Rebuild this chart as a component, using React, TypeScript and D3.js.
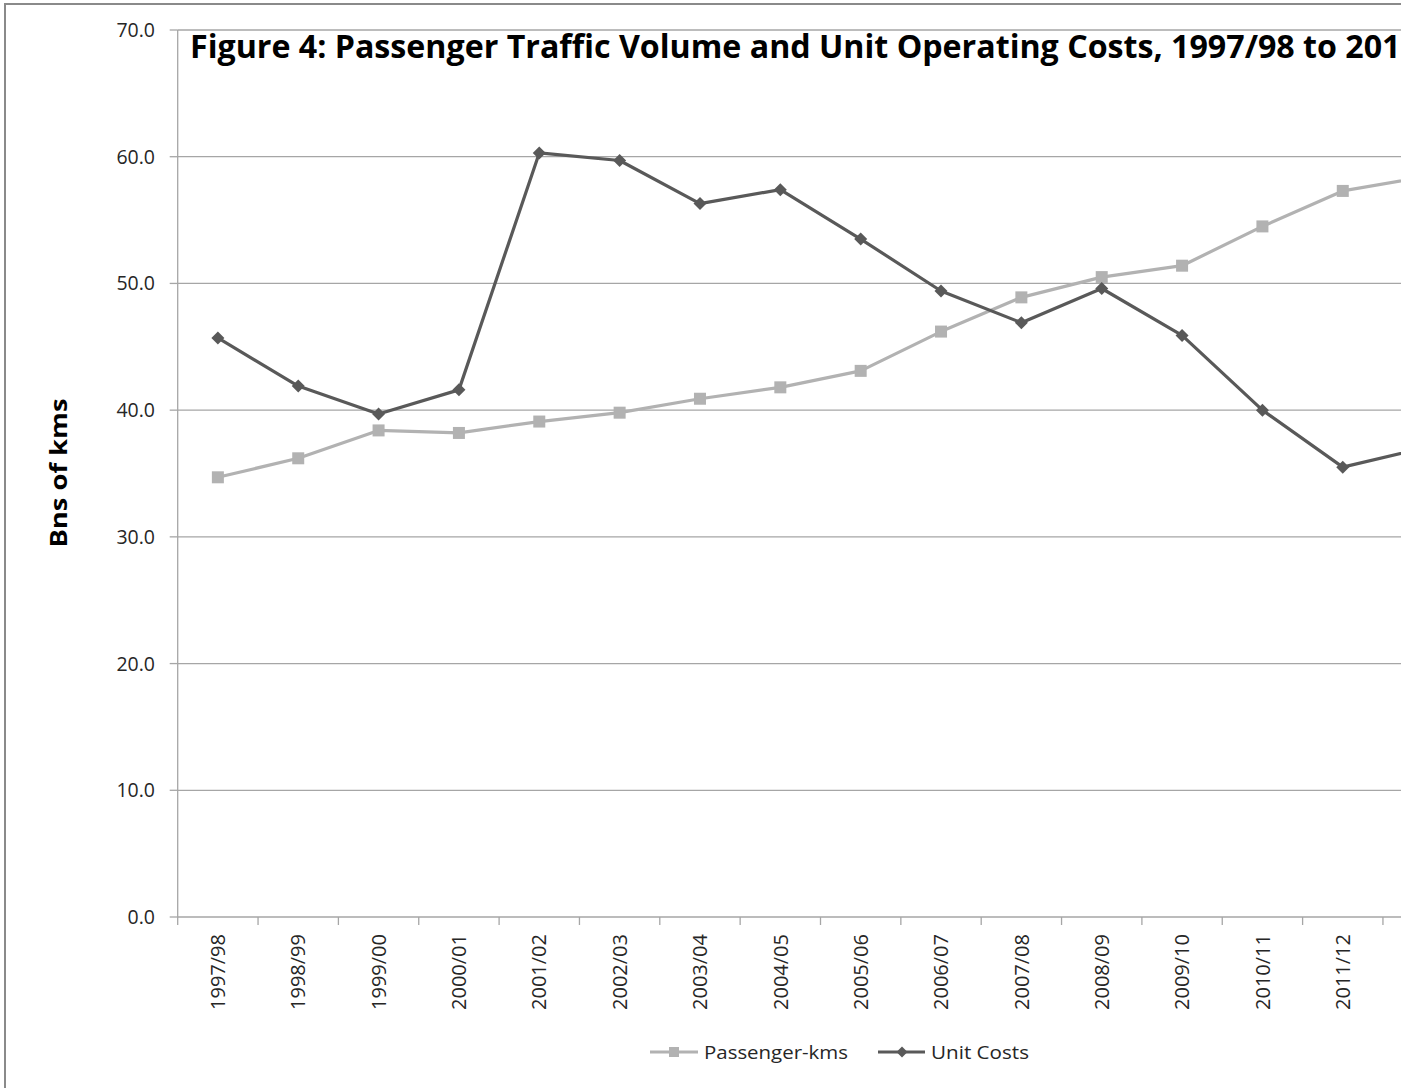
import React from "react";
import * as d3 from "d3";

const categories = [
  "1997/98", "1998/99", "1999/00", "2000/01", "2001/02", "2002/03", "2003/04", "2004/05",
  "2005/06", "2006/07", "2007/08", "2008/09", "2009/10", "2010/11", "2011/12", "2012/13",
];
const passengerKms = [34.7, 36.2, 38.4, 38.2, 39.1, 39.8, 40.9, 41.8, 43.1, 46.2, 48.9, 50.5, 51.4, 54.5, 57.3, 58.4];
const unitCosts = [45.7, 41.9, 39.7, 41.6, 60.3, 59.7, 56.3, 57.4, 53.5, 49.4, 46.9, 49.6, 45.9, 40.0, 35.5, 37.0];
const yTicks = [0, 10, 20, 30, 40, 50, 60, 70];
const seriesNames = ["Passenger-kms", "Unit Costs"];
const title = "Figure 4: Passenger Traffic Volume and Unit Operating Costs, 1997/98 to 2012/13";
const yTitle = "Bns of kms";

const W = 1401;
const H = 1088;
const left = 177.7;
const step = 80.35;
const top = 30;
const bottom = 917;

const lightCol = "#b2b2b2";
const darkCol = "#595959";
const gridCol = "#a6a6a6";
const font = "'Open Sans', 'DejaVu Sans', sans-serif";

export default function App() {
  const x = d3
    .scaleBand<string>()
    .domain(categories)
    .range([left, left + step * categories.length])
    .paddingInner(0)
    .paddingOuter(0);
  const y = d3.scaleLinear().domain([0, 70]).range([bottom, top]);
  const cx = (c: string) => (x(c) as number) + x.bandwidth() / 2;

  const line = d3
    .line<number>()
    .x((_, i) => cx(categories[i]))
    .y((d) => y(d));

  const tickEdges = d3.range(categories.length + 1).map((i) => left + step * i);

  const diamond = (px: number, py: number, r: number) =>
    `M${px},${py - r}L${px + r},${py}L${px},${py + r}L${px - r},${py}Z`;

  return (
    <svg
      width={W}
      height={H}
      style={{ position: "absolute", left: 0, top: 0, background: "#fff" }}
      fontFamily={font}
    >
      <rect x={0} y={0} width={W} height={H} fill="#fff" />
      <rect x={5} y={4} width={W + 20} height={H + 20} fill="none" stroke="#8a8a8a" strokeWidth={2} />

      {yTicks.filter((t) => t > 0).map((t) => (
        <line key={"g" + t} x1={left} x2={W} y1={y(t)} y2={y(t)} stroke={gridCol} strokeWidth={1.3} />
      ))}

      <line x1={left} x2={left} y1={top} y2={bottom} stroke={gridCol} strokeWidth={1.3} />
      {yTicks.map((t) => (
        <g key={"yt" + t}>
          <line x1={left - 8} x2={left} y1={y(t)} y2={y(t)} stroke={gridCol} strokeWidth={1.3} />
          <text x={155} y={y(t)} dy="0.36em" textAnchor="end" fontSize={19.5} fill="#262626">
            {t.toFixed(1)}
          </text>
        </g>
      ))}

      <line x1={left} x2={W} y1={bottom} y2={bottom} stroke={gridCol} strokeWidth={1.3} />
      {tickEdges.map((tx, i) => (
        <line key={"xt" + i} x1={tx} x2={tx} y1={bottom} y2={bottom + 8} stroke={gridCol} strokeWidth={1.3} />
      ))}
      {categories.filter((c) => cx(c) < W).map((c) => (
        <text
          key={"xl" + c}
          transform={`translate(${cx(c)},${934}) rotate(-90)`}
          textAnchor="end"
          dy="0.36em"
          fontSize={20}
          fill="#262626"
        >
          {c}
        </text>
      ))}

      <path d={line(passengerKms) || ""} fill="none" stroke={lightCol} strokeWidth={3.2} strokeLinejoin="round" />
      {passengerKms.map((v, i) => (
        <rect key={"pm" + i} x={cx(categories[i]) - 6} y={y(v) - 6} width={12} height={12} fill={lightCol} />
      ))}
      <path d={line(unitCosts) || ""} fill="none" stroke={darkCol} strokeWidth={3.2} strokeLinejoin="round" />
      {unitCosts.map((v, i) => (
        <path key={"um" + i} d={diamond(cx(categories[i]), y(v), 6.5)} fill={darkCol} />
      ))}

      <text x={190} y={58} fontSize={32} fontWeight="bold" fill="#000" textLength={1279} lengthAdjust="spacingAndGlyphs">
        {title}
      </text>

      <text
        transform={`translate(${58},${473}) rotate(-90)`}
        textAnchor="middle"
        dy="0.36em"
        fontSize={24}
        fontWeight="bold"
        fill="#000"
        textLength={149}
        lengthAdjust="spacingAndGlyphs"
      >
        {yTitle}
      </text>

      <g>
        <line x1={650} x2={698} y1={1052} y2={1052} stroke={lightCol} strokeWidth={3} />
        <rect x={669} y={1047} width={10} height={10} fill={lightCol} />
        <text x={704} y={1052} dy="0.36em" fontSize={19} fill="#262626" textLength={144} lengthAdjust="spacingAndGlyphs">
          {seriesNames[0]}
        </text>
        <line x1={878} x2={925} y1={1052} y2={1052} stroke={darkCol} strokeWidth={3} />
        <path d={diamond(902, 1052, 5.5)} fill={darkCol} />
        <text x={931} y={1052} dy="0.36em" fontSize={19} fill="#262626" textLength={98} lengthAdjust="spacingAndGlyphs">
          {seriesNames[1]}
        </text>
      </g>
    </svg>
  );
}
